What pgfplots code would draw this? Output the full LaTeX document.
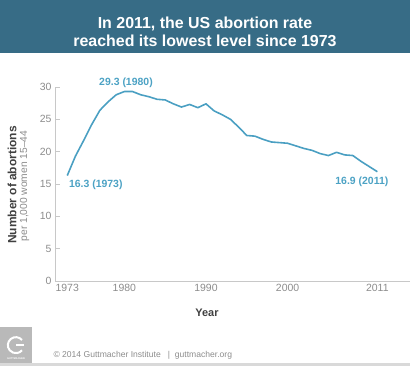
\documentclass[border=0pt]{standalone}
\usepackage{pgfplots}
\pgfplotsset{compat=1.18}
\usepackage{fontspec}
\setmainfont{Liberation Sans}
\definecolor{hdr}{HTML}{376C86}
\definecolor{ln}{HTML}{4A9FC2}
\definecolor{lbl}{HTML}{4CA2C4}
\definecolor{tk}{HTML}{8C8C8C}
\definecolor{ax}{HTML}{C8C8C8}
\begin{document}
\begin{tikzpicture}[x=1bp,y=1bp]
\path[use as bounding box] (0,0) rectangle (410,371);
\fill[hdr] (0,318) rectangle (410,371);
\node[text=white,font=\fontsize{16}{18.5}\selectfont\bfseries,align=center] at (205,339) {In 2011, the US abortion rate\\reached its lowest level since 1973};
\begin{axis}[
  at={(55bp,90bp)}, anchor=south west,
  scale only axis, width=355bp, height=194bp,
  xmin=1971.5, xmax=2015, ymin=0, ymax=30,
  axis x line=bottom, axis y line=left,
  axis line style={ax, line width=0.8pt, -},
  xtick={1973,1980,1990,2000,2011}, ytick={0,5,...,30},
  x tick label style={/pgf/number format/1000 sep={}},
  xticklabel style={text=tk, font=\fontsize{10.5}{12}\selectfont},
  yticklabel style={text=tk, font=\fontsize{10.5}{12}\selectfont},
  /pgf/number format/assume math mode=true,
  major x tick style={draw=none},
  major y tick style={ax, line width=0.8pt},
  tick align=inside, major tick length=5bp,
  clip=false,
]
\addplot[ln, line width=1.6pt, line join=round] coordinates {
(1973,16.3)(1974,19.3)(1975,21.7)(1976,24.2)(1977,26.4)(1978,27.7)(1979,28.8)(1980,29.3)(1981,29.3)
(1982,28.8)(1983,28.5)(1984,28.1)(1985,28.0)(1986,27.4)(1987,26.9)(1988,27.3)(1989,26.8)(1990,27.4)
(1991,26.3)(1992,25.7)(1993,25.0)(1994,23.8)(1995,22.5)(1996,22.4)(1997,21.9)(1998,21.5)(1999,21.4)
(2000,21.3)(2001,20.9)(2002,20.5)(2003,20.2)(2004,19.7)(2005,19.4)(2006,19.9)(2007,19.5)(2008,19.4)
(2009,18.5)(2010,17.7)(2011,16.9)};
\node[text=lbl, font=\fontsize{10.5}{12}\selectfont\bfseries] at (axis cs:1980.2,30.6) {29.3 (1980)};
\node[text=lbl, font=\fontsize{10.5}{12}\selectfont\bfseries] at (axis cs:1976.5,14.9) {16.3 (1973)};
\node[text=lbl, font=\fontsize{10.5}{12}\selectfont\bfseries] at (axis cs:2009.1,15.3) {16.9 (2011)};
\end{axis}
\node[rotate=90, text=black!75, font=\fontsize{12}{14}\selectfont\bfseries] at (12,186) {Number of abortions};
\node[rotate=90, text=tk, font=\fontsize{10.3}{12}\selectfont] at (24.5,185) {per 1,000 women 15–44};
\node[text=black!75, font=\fontsize{11}{13}\selectfont\bfseries] at (207,58) {Year};
% footer
\fill[gray!55] (0,8) rectangle (32,44);
\draw[white, line width=2pt] (22,31) arc (40:320:8);
\draw[white, line width=1.5pt] (16,26) -- (24,26);
\node[text=white, font=\fontsize{2.5}{3}\selectfont\bfseries] at (16,12) {GUTTMACHER};
\node[text=gray!60, font=\fontsize{2.5}{3}\selectfont] at (16,5) {INSTITUTE};
\node[anchor=west, text=tk, font=\fontsize{8.6}{10}\selectfont] at (50,16) {© 2014 Guttmacher Institute \ \ |\ \ guttmacher.org};
\fill[gray!30] (0,5) rectangle (410,8);
\end{tikzpicture}
\end{document}
